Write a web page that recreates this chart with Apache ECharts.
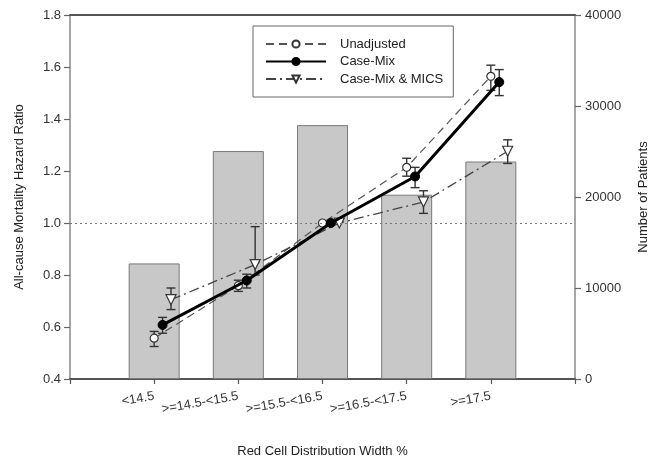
<!DOCTYPE html>
<html>
<head>
<meta charset="utf-8">
<script src="https://cdn.jsdelivr.net/npm/echarts@6/dist/echarts.min.js"></script>
<style>html,body{margin:0;padding:0;background:#fff;}#c{width:651px;height:458px;}</style>
</head>
<body>
<div id="c"></div>
<script>
// ---- data ----
const categories = ['<14.5', '>=14.5-<15.5', '>=15.5-<16.5', '>=16.5-<17.5', '>=17.5'];
const patients = [12700, 25050, 27900, 20250, 23900];

const unadjusted   = [0.557, 0.759, 1.0, 1.214, 1.564];
const unadjustedLo = [0.525, 0.737, null, 1.180, 1.510];
const unadjustedHi = [0.583, 0.780, null, 1.249, 1.607];

const caseMix   = [0.608, 0.779, 1.0, 1.179, 1.542];
const caseMixLo = [0.576, 0.750, null, 1.136, 1.490];
const caseMixHi = [0.637, 0.803, null, 1.214, 1.590];

const caseMixMics   = [0.705, 0.840, 1.0, 1.081, 1.276];
const caseMixMicsLo = [0.667, 0.800, null, 1.037, 1.229];
const caseMixMicsHi = [0.750, 0.986, null, 1.124, 1.320];

const leftTicks = [0.4, 0.6, 0.8, 1.0, 1.2, 1.4, 1.6, 1.8];
const rightTicks = [0, 10000, 20000, 30000, 40000];

// ---- build ----
const FONT = 'Liberation Sans, Arial, sans-serif';
const offsets = [0, 0.1, 0.2];
function pts(vals, off) { return vals.map((v, i) => [i + 1 + off, v]); }
function errs(lo, hi, off) {
  const out = [];
  lo.forEach((l, i) => { if (l != null && hi[i] != null) out.push([i + 1 + off, l, hi[i]]); });
  return out;
}
function errRender(params, api) {
  const x = api.value(0);
  const a = api.coord([x, api.value(1)]);
  const b = api.coord([x, api.value(2)]);
  const w = 4.5;
  const st = { stroke: '#333', lineWidth: 1.4 };
  return { type: 'group', children: [
    { type: 'line', shape: { x1: a[0], y1: a[1], x2: b[0], y2: b[1] }, style: st },
    { type: 'line', shape: { x1: a[0] - w, y1: a[1], x2: a[0] + w, y2: a[1] }, style: st },
    { type: 'line', shape: { x1: b[0] - w, y1: b[1], x2: b[0] + w, y2: b[1] }, style: st }
  ]};
}
function errSeries(lo, hi, off) {
  return { type: 'custom', xAxisIndex: 0, yAxisIndex: 0, renderItem: errRender,
    data: errs(lo, hi, off), z: 3, silent: true, encode: { x: 0, y: [1, 2] } };
}

const chart = echarts.init(document.getElementById('c'), null, { renderer: 'canvas' });
chart.setOption({
  animation: false,
  backgroundColor: '#fff',
  textStyle: { fontFamily: FONT },
  grid: { left: 70, right: 76, top: 15, bottom: 79, containLabel: false, outerBoundsMode: 'none' },
  legend: {
    orient: 'vertical', left: 253, top: 26,
    padding: [11, 10, 11, 12], itemGap: 3.5, itemWidth: 60, itemHeight: 9,
    borderColor: '#666', borderWidth: 1, backgroundColor: '#fff',
    textStyle: { fontFamily: FONT, fontSize: 13, lineHeight: 14, color: '#222', padding: [0, 0, 0, 9] },
    data: ['Unadjusted', 'Case-Mix', 'Case-Mix & MICS']
  },
  xAxis: [
    {
      type: 'value', position: 'bottom', min: 0, max: 6, interval: 1,
      axisLine: { show: true, onZero: false, lineStyle: { color: '#555', width: 2 } },
      axisTick: { show: true, length: 5, lineStyle: { color: '#555', width: 1.2 } },
      splitLine: { show: false },
      axisLabel: { rotate: 10, margin: 17, fontFamily: FONT, fontSize: 13, color: '#333',
        formatter: v => categories[v - 1] || '' },
      name: 'Red Cell Distribution Width %', nameLocation: 'middle', nameGap: 66,
      nameTextStyle: { fontFamily: FONT, fontSize: 13, color: '#222' }
    },
    {
      type: 'value', position: 'top', min: 0, max: 6,
      axisLine: { show: true, onZero: false, lineStyle: { color: '#555', width: 2 } },
      axisTick: { show: false }, axisLabel: { show: false }, splitLine: { show: false }
    }
  ],
  yAxis: [
    {
      type: 'value', position: 'left', min: leftTicks[0], max: leftTicks[leftTicks.length - 1], interval: 0.2,
      axisLine: { show: true, onZero: false, lineStyle: { color: '#888', width: 1.5 } },
      axisTick: { show: true, length: 6, lineStyle: { color: '#666', width: 1.2 } },
      splitLine: { show: false },
      axisLabel: { fontFamily: FONT, fontSize: 13, color: '#333', margin: 9, formatter: v => v.toFixed(1) },
      name: 'All-cause Mortality Hazard Ratio', nameLocation: 'middle', nameGap: 44, nameRotate: 90,
      nameTextStyle: { fontFamily: FONT, fontSize: 13, color: '#222' }
    },
    {
      type: 'value', position: 'right', min: rightTicks[0], max: rightTicks[rightTicks.length - 1], interval: 10000,
      axisLine: { show: true, onZero: false, lineStyle: { color: '#888', width: 1.5 } },
      axisTick: { show: true, length: 6, lineStyle: { color: '#666', width: 1.2 } },
      splitLine: { show: false },
      axisLabel: { fontFamily: FONT, fontSize: 13, color: '#333', margin: 10, formatter: v => String(v) },
      name: 'Number of Patients', nameLocation: 'middle', nameGap: 62, nameRotate: 90,
      nameTextStyle: { fontFamily: FONT, fontSize: 13, color: '#222' }
    }
  ],
  series: [
    {
      name: 'Patients', type: 'bar', xAxisIndex: 0, yAxisIndex: 1,
      data: patients.map((v, i) => [i + 1, v]), barWidth: 51, z: 1,
      itemStyle: { color: '#c8c8c8', borderColor: '#7a7a7a', borderWidth: 1 }
    },
    errSeries(unadjustedLo, unadjustedHi, offsets[0]),
    errSeries(caseMixLo, caseMixHi, offsets[1]),
    errSeries(caseMixMicsLo, caseMixMicsHi, offsets[2]),
    {
      name: 'Unadjusted', type: 'line', xAxisIndex: 0, yAxisIndex: 0, z: 4,
      data: pts(unadjusted, offsets[0]),
      lineStyle: { color: '#555', width: 1.2, type: [8, 5] },
      symbol: 'circle', symbolSize: 8,
      itemStyle: { color: '#fff', borderColor: '#333', borderWidth: 1.2 },
      markLine: {
        silent: true, symbol: 'none', label: { show: false },
        lineStyle: { color: '#777', type: [2, 3], width: 1 },
        data: [{ yAxis: 1.0 }]
      }
    },
    {
      name: 'Case-Mix', type: 'line', xAxisIndex: 0, yAxisIndex: 0, z: 5,
      data: pts(caseMix, offsets[1]),
      lineStyle: { color: '#000', width: 3 },
      symbol: 'circle', symbolSize: 9,
      itemStyle: { color: '#000', borderColor: '#000', borderWidth: 1 }
    },
    {
      name: 'Case-Mix & MICS', type: 'line', xAxisIndex: 0, yAxisIndex: 0, z: 4,
      data: pts(caseMixMics, offsets[2]),
      lineStyle: { color: '#444', width: 1.3, type: [10, 4, 2, 4] },
      symbol: 'triangle', symbolRotate: 180, symbolSize: 10,
      itemStyle: { color: '#fff', borderColor: '#333', borderWidth: 1.2 }
    }
  ]
});
</script>
</body>
</html>
